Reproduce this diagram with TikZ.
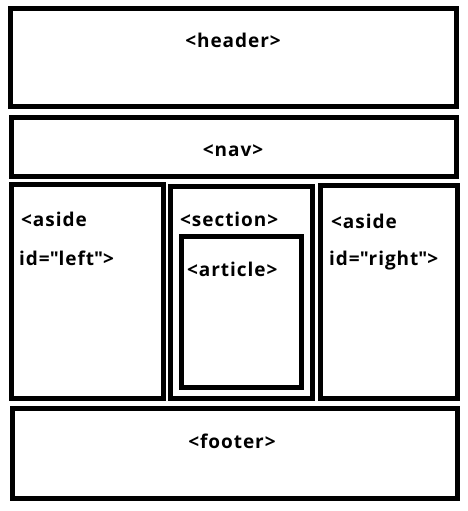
\documentclass[tikz,border=0pt]{standalone}
\usepackage{fontspec}
\setmainfont{Open Sans}[LetterSpace=5]

\begin{document}
\begin{tikzpicture}[x=1pt,y=-1pt,
    box/.style={draw, line width=5pt},
    tag/.style={font=\fontsize{19}{22}\selectfont\bfseries, inner sep=0pt}]
            \useasboundingbox (0,0) rectangle (468,511);

            \draw [box] (10.5,8.5) rectangle (456.5,106.5); % header
            \node [tag] (header) at (233,40) {<header>};

            \draw [box] (11.5,117.5) rectangle (456.5,176.5); % nav
            \node [tag] (nav) at (233,151) {<nav>};

            \draw [box] (11.5,184.5) rectangle (163.5,398.5); % aside left
            \node [tag, anchor=west] (asideL) at (21,219) {<aside};
            \node [tag, anchor=west] (idL) at (19,258) {id=\textquotedbl left\textquotedbl>};

            \draw [box] (170.5,186.5) rectangle (312.5,398.5); % section
            \node [tag, anchor=west] (section) at (180,219) {<section>};
            \draw [box] (181.5,236.5) rectangle (301.5,387.5); % article
            \node [tag, anchor=west] (article) at (187,269) {<article>};

            \draw [box] (320.5,185.5) rectangle (457.5,398.5); % aside right
            \node [tag, anchor=west] (asideR) at (331,221) {<aside};
            \node [tag, anchor=west] (idR) at (329,261) {id=\textquotedbl right\textquotedbl>};

            \draw [box] (12.5,408.5) rectangle (457.5,498.5); % footer
            \node [tag] (footer) at (232,441) {<footer>};
        \end{tikzpicture}
\end{document}
